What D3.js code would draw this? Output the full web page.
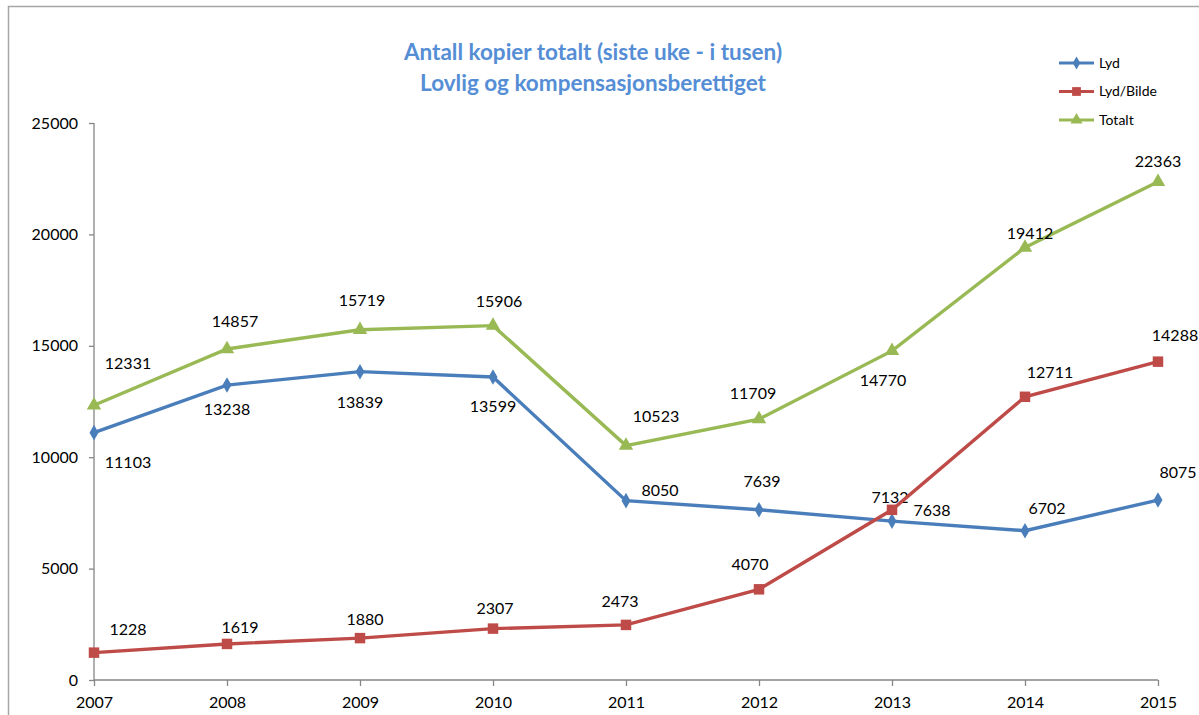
<!DOCTYPE html>
<html>
<head>
<meta charset="utf-8">
<script src="https://cdn.jsdelivr.net/npm/d3@7"></script>
<style>
  body { margin: 0; background: #fff; }
  text { font-family: Lato, "Open Sans", sans-serif; }
</style>
</head>
<body>
<svg id="chart" width="1199" height="715"></svg>
<script>
// data
var years = [2007, 2008, 2009, 2010, 2011, 2012, 2013, 2014, 2015];
var lyd = [11103, 13238, 13839, 13599, 8050, 7639, 7132, 6702, 8075];
var lydBilde = [1228, 1619, 1880, 2307, 2473, 4070, 7638, 12711, 14288];
var totalt = [12331, 14857, 15719, 15906, 10523, 11709, 14770, 19412, 22363];
var yTicks = [0, 5000, 10000, 15000, 20000, 25000];

// label offsets (px) from each point, as in the reference
var lydLabelOff = [[34, 30], [0, 24], [0, 31], [0, 29], [34, -10], [3, -28], [-2, -24], [22, -22], [20, -28]];
var lydBildeLabelOff = [[34, -23], [13, -17], [5, -19], [2, -20], [-6, -24], [-9, -25], [40, 1], [25, -24], [17, -26]];
var totaltLabelOff = [[34, -42], [8, -28], [2, -29], [6, -24], [30, -29], [-6, -26], [-9, 29], [5, -14], [0, -20]];

var svg = d3.select("#chart");
var margin = {top: 123, left: 94, right: 41, bottom: 35};
var width = 1199 - margin.left - margin.right,
    height = 715 - margin.top - margin.bottom;

// chart border
svg.append("rect")
    .attr("x", 8.5).attr("y", 6.5)
    .attr("width", 1300).attr("height", 800)
    .attr("fill", "none")
    .attr("stroke", "#a6a6a6")
    .attr("stroke-width", 1.5);

var g = svg.append("g")
    .attr("transform", "translate(" + margin.left + "," + margin.top + ")");

var x = d3.scalePoint().domain(years).range([0, width]);
var y = d3.scaleLinear().domain([0, 25000]).range([height, 0]);

// y axis
var yAxis = g.append("g")
    .call(d3.axisLeft(y).tickValues(yTicks).tickSize(5).tickPadding(11).tickFormat(d3.format("d")));
// x axis
var xAxis = g.append("g")
    .attr("transform", "translate(0," + height + ")")
    .call(d3.axisBottom(x).tickSize(6).tickPadding(11).tickFormat(d3.format("d")));

[yAxis, xAxis].forEach(function(a) {
  a.select(".domain").attr("stroke", "#868686").attr("stroke-width", 1.3);
  a.selectAll(".tick line").attr("stroke", "#868686").attr("stroke-width", 1.3);
  a.selectAll(".tick text").attr("fill", "#000").style("font-size", "16px")
      .style("font-family", "Lato, 'Open Sans', sans-serif");
});
xAxis.select(".domain").attr("d", "M0,0H" + width);
yAxis.select(".domain").attr("d", "M0," + height + "V0");

var series = [
  {name: "Lyd", values: lyd, color: "#4A7EBB", marker: d3.symbolDiamond, size: 70, off: lydLabelOff},
  {name: "Lyd/Bilde", values: lydBilde, color: "#BE4B48", marker: d3.symbolSquare, size: 110, off: lydBildeLabelOff},
  {name: "Totalt", values: totalt, color: "#98B954", marker: d3.symbolTriangle, size: 90, off: totaltLabelOff}
];

var line = d3.line()
    .x(function(d, i) { return x(years[i]); })
    .y(function(d) { return y(d); });

series.forEach(function(s) {
  g.append("path")
      .datum(s.values)
      .attr("fill", "none")
      .attr("stroke", s.color)
      .attr("stroke-width", 3.4)
      .attr("d", line);

  g.selectAll(null)
      .data(s.values)
    .enter().append("path")
      .attr("d", d3.symbol().type(s.marker).size(s.size))
      .attr("transform", function(d, i) { return "translate(" + x(years[i]) + "," + y(d) + ")"; })
      .attr("fill", s.color);

  g.selectAll(null)
      .data(s.values)
    .enter().append("text")
      .attr("x", function(d, i) { return x(years[i]) + s.off[i][0]; })
      .attr("y", function(d, i) { return y(d) + s.off[i][1]; })
      .attr("dy", "0.35em")
      .attr("text-anchor", "middle")
      .style("font-size", "16px")
      .attr("fill", "#000")
      .text(function(d) { return d; });
});

// title
var title = svg.append("text")
    .attr("x", 593).attr("y", 60)
    .attr("text-anchor", "middle")
    .attr("fill", "#558ED5")
    .style("font-size", "22.5px")
    .style("font-weight", "bold");
title.append("tspan").attr("x", 593).attr("dy", 0).text("Antall kopier totalt (siste uke - i tusen)");
title.append("tspan").attr("x", 593).attr("dy", 31).text("Lovlig og kompensasjonsberettiget");

// legend
var legend = svg.append("g").attr("transform", "translate(1059,63)");
series.forEach(function(s, i) {
  var lg = legend.append("g").attr("transform", "translate(0," + (i * 28.5) + ")");
  lg.append("line").attr("x1", 0).attr("x2", 35).attr("y1", 0).attr("y2", 0)
      .attr("stroke", s.color).attr("stroke-width", 3.2);
  lg.append("path").attr("d", d3.symbol().type(s.marker).size(s.size * 0.7))
      .attr("transform", "translate(17.5,0)").attr("fill", s.color);
  lg.append("text").attr("x", 40).attr("y", 0).attr("dy", "0.35em")
      .style("font-size", "14px").attr("fill", "#000").text(s.name);
});
</script>
</body>
</html>
